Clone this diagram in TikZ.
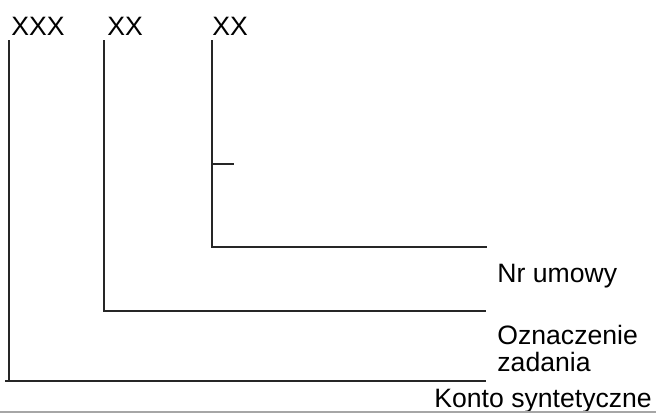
\documentclass[tikz,border=0pt]{standalone}
\usepackage{fontspec}
\setmainfont{Liberation Sans}
\tikzset{
	field/.style={anchor=base west, inner sep=0pt, font=\fontsize{13.3}{13.6}\selectfont},
	desc/.style={field, align=left},
	rule/.style={draw=black!85, line width=1.1pt},
	edge/.style={draw=black!35, line width=0.8pt}
}

\begin{document}
\begin{tikzpicture}[x=0.5pt, y=-0.5pt]
\useasboundingbox (0,0) rectangle (656,414);

% field codes on top
\node[field] (konto) at (11,35) {XXX};
\node[field] (zadanie) at (107,35) {XX};
\node[field] (umowa) at (212,35) {XX};

% descriptions on the right
\node[field] (nr) at (497,282) {Nr umowy};
\node[desc, anchor=north west] (ozn) at (497,325) {Oznaczenie\\zadania};
\node[field] (syn) at (434,407) {Konto syntetyczne};

\coordinate (kontotop) at (9,40);
\coordinate (kontobot) at (9,381);
\coordinate (kontostart) at (5,381);
\coordinate (kontoend) at (486,381);

\coordinate (zadanietop) at (104,40);
\coordinate (zadaniebot) at (104,311);
\coordinate (zadanieend) at (486,311);

\coordinate (umowatop) at (212,40);
\coordinate (umowabot) at (212,247);
\coordinate (umowaend) at (487,247);
\coordinate (ticka) at (212,164);
\coordinate (tickb) at (234,164);

\coordinate (edgea) at (0,412);
\coordinate (edgeb) at (656,412);

\draw [rule] (kontotop) -- (kontobot);
\draw [rule] (kontostart) -- (kontoend);
\draw [rule] (zadanietop) |- (zadanieend);
\draw [rule] (umowatop) |- (umowaend);
\draw [rule] (ticka) -- (tickb);

\draw [edge] (edgea) -- (edgeb);

\end{tikzpicture}
\end{document}
